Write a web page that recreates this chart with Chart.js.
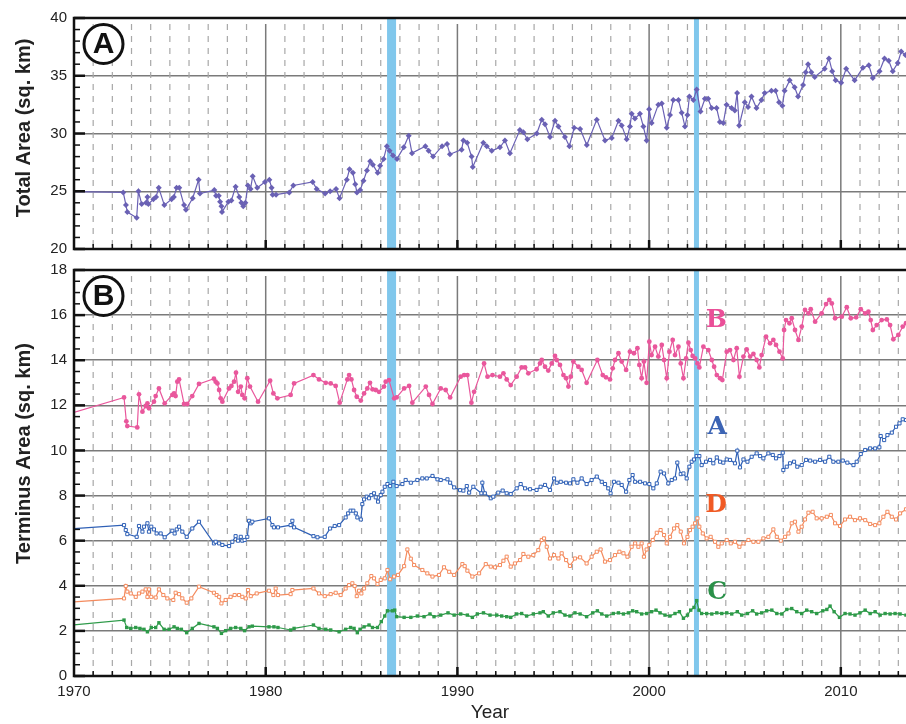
<!DOCTYPE html>
<html>
<head>
<meta charset="utf-8">
<script src="https://cdn.jsdelivr.net/npm/chart.js@4/dist/chart.umd.min.js"></script>
<style>
  html, body { margin: 0; padding: 0; background: #fff; }
  #wrap { position: relative; width: 906px; height: 724px; }
  #topChart { position: absolute; left: 0; top: 0; }
  #bottomChart { position: absolute; left: 0; top: 258px; }
</style>
</head>
<body>
<div id="wrap">
  <canvas id="topChart" width="906" height="258"></canvas>
  <canvas id="bottomChart" width="906" height="466"></canvas>
</div>
<script>
// [year, sq. km]
const totalArea = [
  [1969,25.0],[1972.57,24.9],[1972.71,23.8],[1972.78,23.2],[1973.27,22.7],[1973.36,25.0],[1973.53,23.9],[1973.76,24.0],
  [1973.83,24.5],[1973.88,23.9],[1974.14,24.3],[1974.28,24.5],[1974.42,25.3],[1974.71,23.8],[1975.09,24.3],[1975.21,24.5],
  [1975.35,25.3],[1975.49,25.3],[1975.74,23.8],[1975.84,23.4],[1976.19,24.4],[1976.5,26.0],[1976.57,24.8],[1977.32,25.1],
  [1977.41,24.6],[1977.55,24.6],[1977.62,24.1],[1977.69,23.7],[1977.72,23.2],[1978.05,24.1],[1978.21,24.2],[1978.43,25.4],
  [1978.62,24.5],[1978.73,24.0],[1978.83,23.7],[1978.94,24.0],[1979.07,25.5],[1979.21,25.2],[1979.32,26.3],[1979.56,25.3],
  [1979.96,25.8],[1980.19,26.0],[1980.31,25.3],[1980.36,24.7],[1980.54,24.7],[1981.23,24.9],[1981.44,25.5],[1982.45,25.8],
  [1982.66,25.2],[1983.1,24.8],[1983.36,25.0],[1983.67,25.2],[1983.85,24.4],[1984.23,26.0],[1984.37,26.9],[1984.55,26.6],
  [1984.67,25.6],[1984.76,24.9],[1984.93,25.1],[1985.1,25.9],[1985.28,26.8],[1985.45,27.6],[1985.59,27.3],[1985.84,26.6],
  [1985.97,27.2],[1986.15,27.8],[1986.32,28.9],[1986.46,28.5],[1986.64,28.1],[1986.85,27.8],[1987.2,28.8],[1987.46,29.8],
  [1987.63,28.3],[1988.33,28.9],[1988.5,28.5],[1988.73,28.0],[1989.2,28.9],[1989.46,29.1],[1989.61,28.2],[1990.22,28.6],
  [1990.31,29.4],[1990.51,29.2],[1990.74,28.0],[1990.8,27.1],[1991.35,29.2],[1991.53,28.9],[1991.79,28.5],[1992.22,28.8],
  [1992.48,29.4],[1992.74,28.3],[1993.26,30.3],[1993.44,30.1],[1993.65,29.5],[1994.14,30.0],[1994.4,31.2],[1994.57,30.8],
  [1994.83,29.7],[1995.09,31.1],[1995.27,30.6],[1995.61,29.7],[1995.84,28.9],[1996.09,30.5],[1996.4,30.4],[1996.75,29.0],
  [1997.27,31.2],[1997.7,29.4],[1998.05,29.6],[1998.4,31.1],[1998.57,30.7],[1998.83,29.5],[1999.0,30.6],[1999.09,31.7],
  [1999.26,31.3],[1999.52,31.7],[1999.7,30.6],[1999.87,29.4],[2000.0,32.1],[2000.13,30.9],[2000.48,32.5],[2000.66,32.6],
  [2000.92,30.5],[2001.09,31.6],[2001.26,32.9],[2001.53,32.9],[2001.7,31.8],[2001.87,30.6],[2002.0,31.6],[2002.1,33.2],
  [2002.31,32.9],[2002.48,33.8],[2002.68,31.9],[2002.91,33.0],[2003.08,33.0],[2003.26,32.2],[2003.52,32.2],[2003.69,31.0],
  [2003.87,30.9],[2004.04,32.5],[2004.3,32.2],[2004.47,32.0],[2004.59,33.5],[2004.7,30.7],[2004.99,32.7],[2005.16,32.3],
  [2005.34,33.2],[2005.6,32.2],[2005.86,32.9],[2006.03,33.5],[2006.38,33.7],[2006.6,33.7],[2006.78,32.7],[2006.95,32.4],
  [2007.07,33.7],[2007.33,34.6],[2007.59,34.0],[2007.77,33.2],[2008.03,34.2],[2008.17,35.3],[2008.29,36.0],[2008.46,35.3],
  [2008.64,34.9],[2009.16,35.6],[2009.38,36.5],[2009.55,35.4],[2009.73,34.6],[2010.02,34.4],[2010.28,35.6],[2010.72,34.6],
  [2011.15,35.7],[2011.46,35.9],[2011.67,34.8],[2012.02,35.4],[2012.28,36.5],[2012.5,36.3],[2012.71,35.4],[2012.97,36.1],
  [2013.15,37.1],[2013.37,36.8]
];

const terminusB = [
  [1969,11.44],[1972.61,12.35],[1972.73,11.29],[1972.78,11.08],[1973.3,11.02],[1973.39,12.49],[1973.57,11.72],[1973.74,11.97],
  [1973.83,12.09],[1973.91,11.87],[1974.17,12.16],[1974.26,12.41],[1974.43,12.75],[1974.73,12.09],[1975.13,12.46],[1975.22,12.53],
  [1975.3,12.41],[1975.39,13.05],[1975.48,13.15],[1975.74,12.06],[1975.91,12.06],[1976.17,12.41],[1976.52,12.95],[1977.3,13.18],
  [1977.39,13.05],[1977.48,12.97],[1977.57,12.68],[1977.65,12.31],[1977.74,12.16],[1978.09,12.75],[1978.21,12.86],[1978.35,13.05],
  [1978.45,13.45],[1978.56,12.6],[1978.7,12.83],[1978.78,12.46],[1978.9,12.31],[1979.04,13.2],[1979.18,12.83],[1979.6,12.16],
  [1980.23,13.09],[1980.4,12.53],[1980.61,12.31],[1981.3,12.46],[1981.48,12.97],[1982.49,13.34],[1982.78,13.15],[1983.13,13.0],
  [1983.39,12.97],[1983.65,12.86],[1983.86,12.12],[1984.26,13.15],[1984.35,13.34],[1984.47,13.15],[1984.61,12.68],[1984.75,12.38],
  [1984.96,12.21],[1985.13,12.53],[1985.3,12.75],[1985.44,13.0],[1985.57,12.71],[1985.74,12.68],[1985.91,12.6],[1986.17,12.83],
  [1986.26,13.05],[1986.43,13.12],[1986.7,12.31],[1986.83,12.35],[1987.22,12.75],[1987.48,12.86],[1987.65,12.12],[1988.35,12.83],
  [1988.52,12.46],[1988.7,12.06],[1989.13,12.75],[1989.39,12.68],[1989.62,12.35],[1990.17,13.27],[1990.35,13.34],[1990.52,13.34],
  [1990.73,12.12],[1990.87,12.6],[1991.39,13.86],[1991.57,13.27],[1991.83,13.34],[1992.22,13.27],[1992.4,13.42],[1992.57,13.15],
  [1992.78,12.9],[1993.09,13.27],[1993.35,13.68],[1993.53,13.68],[1993.7,13.42],[1994.13,13.6],[1994.31,13.86],[1994.4,14.01],
  [1994.57,13.71],[1994.74,13.54],[1994.92,13.86],[1995.09,14.19],[1995.18,14.01],[1995.35,13.79],[1995.53,13.34],[1995.67,13.2],
  [1995.79,12.83],[1995.91,13.27],[1996.05,13.94],[1996.31,13.71],[1996.48,13.57],[1996.74,13.0],[1997.3,14.01],[1997.58,13.34],
  [1997.75,13.24],[1997.96,13.15],[1998.1,13.64],[1998.22,14.01],[1998.4,14.31],[1998.57,13.94],[1998.8,13.57],[1999.0,14.38],
  [1999.21,14.31],[1999.39,14.53],[1999.49,13.79],[1999.61,13.2],[1999.73,13.94],[1999.87,13.0],[2000.01,14.82],[2000.13,14.23],
  [2000.31,14.6],[2000.48,14.16],[2000.66,14.68],[2000.78,14.01],[2000.92,13.2],[2001.06,14.38],[2001.23,14.9],[2001.35,14.23],
  [2001.53,14.6],[2001.65,13.86],[2001.79,13.2],[2001.93,14.08],[2002.05,14.78],[2002.17,14.45],[2002.27,14.19],[2002.4,14.08],
  [2002.52,13.86],[2002.62,13.68],[2002.83,14.6],[2003.09,14.45],[2003.27,14.01],[2003.39,13.71],[2003.53,13.34],[2003.7,13.2],
  [2003.82,13.12],[2004.05,14.38],[2004.22,14.45],[2004.4,14.01],[2004.57,14.53],[2004.71,13.27],[2004.92,14.16],[2005.09,14.48],
  [2005.27,14.16],[2005.44,14.28],[2005.61,14.01],[2005.75,13.68],[2005.87,14.23],[2006.1,15.04],[2006.31,14.75],[2006.48,14.9],
  [2006.62,14.68],[2006.8,14.38],[2006.97,14.08],[2007.04,15.34],[2007.14,15.78],[2007.32,15.64],[2007.44,15.86],[2007.61,15.34],
  [2007.79,14.9],[2007.96,15.49],[2008.13,16.23],[2008.31,16.08],[2008.43,16.26],[2008.66,15.71],[2009.0,16.08],[2009.23,16.49],
  [2009.4,16.67],[2009.53,16.52],[2009.7,15.86],[2010.05,15.93],[2010.31,16.35],[2010.52,15.86],[2010.8,15.9],[2011.04,16.26],
  [2011.27,16.08],[2011.44,16.15],[2011.56,15.78],[2011.67,15.34],[2011.87,15.56],[2012.13,15.78],[2012.4,15.81],[2012.57,15.56],
  [2012.74,14.93],[2013.0,15.12],[2013.23,15.49],[2013.4,15.64]
];

const terminusA = [
  [1969,6.48],[1972.61,6.69],[1972.7,6.47],[1972.78,6.29],[1973.27,6.17],[1973.39,6.65],[1973.57,6.4],[1973.65,6.62],
  [1973.83,6.77],[1973.91,6.4],[1974.03,6.62],[1974.17,6.5],[1974.31,6.32],[1974.52,6.32],[1974.73,6.15],[1975.13,6.44],
  [1975.25,6.32],[1975.36,6.5],[1975.48,6.62],[1975.65,6.4],[1975.88,6.17],[1976.17,6.54],[1976.52,6.84],[1977.3,5.88],
  [1977.39,5.95],[1977.57,5.88],[1977.74,5.81],[1978.09,5.76],[1978.26,5.95],[1978.43,6.2],[1978.56,6.0],[1978.7,6.17],
  [1978.78,6.0],[1978.9,6.03],[1979.04,6.17],[1979.13,6.88],[1979.22,6.77],[1979.3,6.84],[1980.17,6.99],[1980.35,6.69],
  [1980.43,6.59],[1980.64,6.59],[1981.3,6.69],[1981.39,6.88],[1981.48,6.59],[1982.49,6.2],[1982.7,6.15],[1983.08,6.17],
  [1983.36,6.54],[1983.6,6.65],[1983.83,6.69],[1984.17,7.03],[1984.3,7.21],[1984.43,7.33],[1984.57,7.33],[1984.7,7.21],
  [1984.78,7.03],[1984.96,6.94],[1985.04,7.62],[1985.13,7.83],[1985.27,7.95],[1985.39,7.88],[1985.51,8.02],[1985.65,8.1],
  [1985.74,7.92],[1985.86,7.73],[1986.0,8.02],[1986.09,8.17],[1986.21,8.39],[1986.35,8.51],[1986.49,8.42],[1986.66,8.61],
  [1986.83,8.42],[1987.13,8.51],[1987.3,8.69],[1987.57,8.57],[1987.91,8.69],[1988.17,8.76],[1988.4,8.76],[1988.7,8.87],
  [1988.96,8.72],[1989.13,8.69],[1989.48,8.72],[1989.62,8.57],[1989.83,8.36],[1990.14,8.24],[1990.31,8.22],[1990.49,8.42],
  [1990.61,8.13],[1990.83,8.39],[1991.25,8.1],[1991.3,8.57],[1991.43,8.1],[1991.74,7.88],[1991.87,7.95],[1992.13,8.13],
  [1992.36,8.22],[1992.57,8.1],[1992.78,8.07],[1993.09,8.32],[1993.3,8.51],[1993.53,8.32],[1993.79,8.28],[1994.13,8.25],
  [1994.34,8.39],[1994.57,8.47],[1994.83,8.25],[1995.04,8.76],[1995.18,8.57],[1995.39,8.61],[1995.67,8.57],[1995.87,8.54],
  [1996.05,8.72],[1996.26,8.57],[1996.48,8.76],[1996.74,8.51],[1997.0,8.69],[1997.27,8.84],[1997.53,8.61],[1997.7,8.51],
  [1997.87,8.32],[1997.99,8.1],[1998.17,8.61],[1998.4,8.57],[1998.57,8.47],[1998.8,8.17],[1998.97,8.69],[1999.14,8.91],
  [1999.27,8.61],[1999.53,8.61],[1999.79,8.54],[2000.01,8.51],[2000.22,8.32],[2000.4,8.54],[2000.6,9.06],[2000.78,8.98],
  [2001.0,8.54],[2001.18,8.69],[2001.35,8.76],[2001.47,9.46],[2001.65,8.95],[2001.79,8.98],[2001.96,8.76],[2002.1,9.28],
  [2002.22,9.5],[2002.34,9.6],[2002.48,9.75],[2002.62,9.75],[2002.74,9.35],[2002.97,9.5],[2003.18,9.58],[2003.35,9.43],
  [2003.53,9.69],[2003.7,9.5],[2003.87,9.46],[2004.05,9.6],[2004.22,9.58],[2004.48,9.43],[2004.6,9.99],[2004.74,9.25],
  [2004.92,9.6],[2005.13,9.5],[2005.35,9.72],[2005.61,9.87],[2005.79,9.75],[2005.96,9.65],[2006.22,9.87],[2006.45,9.8],
  [2006.62,9.65],[2006.8,9.75],[2006.97,9.9],[2007.0,9.13],[2007.18,9.28],[2007.35,9.43],[2007.56,9.5],[2007.73,9.28],
  [2007.96,9.35],[2008.19,9.58],[2008.4,9.55],[2008.66,9.5],[2008.92,9.58],[2009.18,9.5],[2009.4,9.72],[2009.61,9.5],
  [2009.87,9.5],[2010.1,9.55],[2010.34,9.46],[2010.66,9.35],[2010.83,9.5],[2011.04,9.84],[2011.27,10.02],[2011.53,10.09],
  [2011.79,10.09],[2012.01,10.14],[2012.08,10.64],[2012.26,10.46],[2012.43,10.68],[2012.66,10.79],[2012.88,11.05],[2013.06,11.2],
  [2013.23,11.38],[2013.4,11.35]
];

const terminusD = [
  [1969,3.23],[1972.61,3.44],[1972.7,3.99],[1972.78,3.74],[1972.96,3.66],[1973.22,3.51],[1973.39,3.66],[1973.57,3.74],
  [1973.74,3.84],[1973.83,3.51],[1973.91,3.84],[1974.03,3.51],[1974.26,3.48],[1974.43,3.84],[1974.66,3.59],[1974.87,3.44],
  [1975.18,3.37],[1975.3,3.69],[1975.48,3.63],[1975.65,3.44],[1975.88,3.25],[1976.12,3.44],[1976.52,3.96],[1977.3,3.69],
  [1977.44,3.59],[1977.57,3.51],[1977.69,3.22],[1977.91,3.37],[1978.17,3.51],[1978.38,3.59],[1978.61,3.59],[1978.78,3.51],
  [1978.96,3.44],[1979.08,3.81],[1979.22,3.54],[1979.53,3.66],[1980.17,3.78],[1980.4,3.59],[1980.52,3.88],[1980.64,3.59],
  [1981.3,3.63],[1981.39,3.81],[1982.49,3.88],[1982.78,3.66],[1983.08,3.54],[1983.39,3.63],[1983.65,3.69],[1983.91,3.59],
  [1984.17,3.88],[1984.35,4.03],[1984.52,4.11],[1984.64,3.99],[1984.75,3.54],[1984.87,3.78],[1984.99,3.66],[1985.13,3.88],
  [1985.3,4.11],[1985.51,4.43],[1985.65,4.33],[1985.83,4.08],[1986.0,4.26],[1986.21,4.33],[1986.35,4.7],[1986.49,4.29],
  [1986.7,4.41],[1986.9,4.48],[1987.22,4.87],[1987.39,5.61],[1987.57,5.2],[1987.74,4.92],[1988.17,4.7],[1988.43,4.55],
  [1988.7,4.41],[1989.04,4.48],[1989.3,4.82],[1989.57,4.62],[1989.83,4.48],[1990.26,4.96],[1990.38,4.87],[1990.52,4.67],
  [1990.78,4.41],[1991.13,4.55],[1991.48,4.96],[1991.74,4.85],[1991.96,4.82],[1992.22,4.92],[1992.4,5.11],[1992.57,5.29],
  [1992.78,4.85],[1993.0,4.99],[1993.27,5.14],[1993.44,5.41],[1993.7,5.29],[1993.96,5.36],[1994.22,5.58],[1994.4,6.03],
  [1994.52,6.1],[1994.66,5.73],[1994.83,5.21],[1995.04,5.36],[1995.27,5.21],[1995.44,5.44],[1995.67,5.14],[1995.87,4.88],
  [1996.13,5.21],[1996.4,5.26],[1996.74,4.99],[1997.0,5.29],[1997.27,5.51],[1997.47,5.61],[1997.7,5.07],[1997.96,5.14],
  [1998.22,5.36],[1998.45,5.51],[1998.66,5.44],[1998.87,5.29],[1999.09,5.73],[1999.27,5.88],[1999.44,5.73],[1999.61,5.88],
  [1999.73,5.29],[1999.87,5.61],[2000.01,5.81],[2000.19,6.03],[2000.4,6.35],[2000.6,6.47],[2000.78,6.25],[2000.92,5.88],
  [2001.09,6.17],[2001.3,6.54],[2001.47,6.69],[2001.65,6.4],[2001.82,5.88],[2002.0,6.17],[2002.13,6.47],[2002.27,6.62],
  [2002.4,6.77],[2002.52,6.99],[2002.62,6.62],[2002.8,6.32],[2003.0,6.1],[2003.21,6.17],[2003.44,5.95],[2003.61,5.73],
  [2003.79,5.88],[2004.05,6.03],[2004.26,5.88],[2004.48,5.95],[2004.71,5.73],[2004.92,5.88],[2005.18,6.03],[2005.44,5.95],
  [2005.7,5.95],[2005.96,6.1],[2006.22,6.17],[2006.48,6.5],[2006.66,6.17],[2006.87,6.0],[2007.09,6.17],[2007.27,6.32],
  [2007.44,6.77],[2007.61,6.84],[2007.79,6.4],[2007.96,6.62],[2008.13,6.94],[2008.31,7.24],[2008.53,7.28],[2008.74,6.99],
  [2009.0,6.99],[2009.27,7.06],[2009.48,7.14],[2009.7,6.77],[2009.96,6.65],[2010.22,6.94],[2010.48,7.06],[2010.74,6.91],
  [2011.0,6.99],[2011.27,6.91],[2011.53,6.74],[2011.79,6.69],[2012.01,6.77],[2012.22,7.06],[2012.43,7.28],[2012.66,7.06],
  [2012.88,6.94],[2013.09,7.21],[2013.4,7.39]
];

const terminusC = [
  [1969,2.18],[1972.61,2.48],[1972.75,2.15],[1972.96,2.11],[1973.22,2.15],[1973.44,2.11],[1973.65,2.07],[1973.83,1.96],
  [1974.03,2.15],[1974.26,2.15],[1974.43,2.36],[1974.7,2.07],[1974.96,2.07],[1975.22,2.18],[1975.39,2.11],[1975.6,2.07],
  [1975.88,1.92],[1976.17,2.11],[1976.52,2.33],[1977.3,2.18],[1977.48,2.11],[1977.69,1.89],[1977.91,2.01],[1978.17,2.11],
  [1978.43,2.15],[1978.7,2.11],[1978.9,2.01],[1979.13,2.18],[1979.3,2.21],[1980.17,2.18],[1980.43,2.18],[1980.64,2.15],
  [1981.3,2.04],[1981.48,2.11],[1982.49,2.26],[1982.78,2.11],[1983.13,2.07],[1983.39,2.04],[1983.83,1.96],[1984.17,2.07],
  [1984.43,2.15],[1984.61,2.11],[1984.78,1.92],[1984.92,2.07],[1985.13,2.18],[1985.39,2.26],[1985.57,2.15],[1985.83,2.15],
  [1986.03,2.41],[1986.21,2.66],[1986.35,2.89],[1986.61,2.89],[1986.73,2.92],[1986.83,2.63],[1987.22,2.6],[1987.57,2.6],
  [1987.91,2.66],[1988.26,2.63],[1988.57,2.75],[1988.78,2.63],[1989.13,2.7],[1989.51,2.8],[1989.83,2.7],[1990.17,2.75],
  [1990.52,2.7],[1990.78,2.6],[1991.04,2.75],[1991.36,2.8],[1991.7,2.7],[1992.05,2.7],[1992.31,2.66],[1992.57,2.63],
  [1992.78,2.6],[1993.09,2.75],[1993.35,2.77],[1993.61,2.66],[1993.96,2.75],[1994.31,2.8],[1994.48,2.85],[1994.74,2.66],
  [1995.0,2.8],[1995.35,2.85],[1995.61,2.7],[1995.87,2.66],[1996.13,2.8],[1996.4,2.75],[1996.74,2.63],[1997.06,2.8],
  [1997.3,2.89],[1997.53,2.75],[1997.79,2.66],[1998.13,2.77],[1998.4,2.8],[1998.66,2.75],[1998.92,2.8],[1999.14,2.89],
  [1999.35,2.85],[1999.61,2.75],[1999.87,2.77],[2000.13,2.85],[2000.36,2.92],[2000.57,2.8],[2000.83,2.7],[2001.09,2.66],
  [2001.35,2.77],[2001.58,2.85],[2001.79,2.56],[2002.0,2.7],[2002.17,2.92],[2002.34,3.04],[2002.48,3.34],[2002.6,2.92],
  [2002.74,2.77],[2003.0,2.77],[2003.27,2.75],[2003.53,2.8],[2003.79,2.77],[2004.05,2.8],[2004.31,2.75],[2004.6,2.85],
  [2004.83,2.7],[2005.13,2.77],[2005.4,2.89],[2005.61,2.75],[2005.87,2.8],[2006.13,2.89],[2006.4,2.92],[2006.66,2.77],
  [2006.92,2.75],[2007.18,2.95],[2007.44,2.99],[2007.7,2.85],[2007.96,2.77],[2008.22,2.92],[2008.48,2.85],[2008.74,2.77],
  [2009.06,2.89],[2009.27,2.95],[2009.44,3.1],[2009.65,2.85],[2009.93,2.6],[2010.22,2.77],[2010.48,2.75],[2010.74,2.7],
  [2011.0,2.8],[2011.27,2.92],[2011.53,2.77],[2011.79,2.85],[2012.05,2.7],[2012.31,2.77],[2012.57,2.75],[2012.83,2.77],
  [2013.09,2.75],[2013.4,2.7]
];

const xTickYears = [1970, 1980, 1990, 2000, 2010];
const bandYears = [[1986.33, 1986.8], [2002.34, 2002.6]];

const FONT = "'Liberation Sans', Arial, sans-serif";

function series(data, color, style, filled, r) {
  return {
    data: data.map(([x, y]) => ({ x, y })),
    borderColor: color,
    borderWidth: 1.2,
    pointStyle: style,
    pointRadius: r,
    pointBackgroundColor: filled ? color : "#fff",
    pointBorderColor: color,
    pointBorderWidth: filled ? 0 : 1,
    tension: 0,
  };
}

function xScale(show) {
  return {
    type: "linear",
    min: 1970,
    max: 2013.4,
    display: show,
    afterFit(s) {
      if (show) s.height = 48;
      s.paddingLeft = 0;
      s.paddingRight = 0;
    },
    grid: { display: false, drawTicks: false },
    border: { display: false },
    ticks: {
      stepSize: 10,
      includeBounds: false,
      autoSkip: false,
      maxRotation: 0,
      padding: 7,
      color: "#222",
      font: { family: FONT, size: 15 },
      callback: (v) => (xTickYears.includes(v) ? String(v) : ""),
    },
    title: { display: show, text: "Year", color: "#222", font: { family: FONT, size: 19 }, padding: 0 },
  };
}

function yScale(min, max, step, title) {
  return {
    min,
    max,
    afterFit(s) {
      s.width = 74;
      s.paddingTop = 0;
      s.paddingBottom = 0;
    },
    grid: { color: "#7a7a7a", lineWidth: 1.5, drawTicks: false },
    border: { display: false },
    ticks: { stepSize: step, padding: 7, color: "#222", font: { family: FONT, size: 15 } },
    title: { display: true, text: title, color: "#222", font: { family: FONT, size: 20, weight: "bold" }, padding: 12 },
  };
}

// grid, bands, frame, tick marks and the text labels
const framePlugin = {
  id: "frame",
  beforeDatasetsDraw(chart) {
    const { ctx, chartArea: a, scales: { x } } = chart;
    ctx.save();
    for (let yr = 1971; yr <= 2013; yr++) {
      const px = x.getPixelForValue(yr);
      ctx.beginPath();
      if (yr % 10 === 0) {
        ctx.setLineDash([]);
        ctx.strokeStyle = "#7a7a7a";
        ctx.lineWidth = 1.5;
      } else {
        ctx.setLineDash([6, 6]);
        ctx.strokeStyle = "#a8a8a8";
        ctx.lineWidth = 1.2;
      }
      ctx.moveTo(px, a.top + 6);
      ctx.lineTo(px, a.bottom);
      ctx.stroke();
    }
    ctx.setLineDash([]);
    ctx.fillStyle = "#80c7ec";
    bandYears.forEach(([s, e]) => {
      const x0 = x.getPixelForValue(s);
      const x1 = x.getPixelForValue(e);
      ctx.fillRect(x0, a.top, x1 - x0, a.bottom - a.top);
    });
    ctx.restore();
  },
  afterDraw(chart, args, opts) {
    const { ctx, chartArea: a, scales: { x, y } } = chart;
    ctx.save();
    ctx.strokeStyle = "#111";
    for (let i = 0; ; i++) {
      const v = y.min + i * opts.minor;
      if (v > y.max + 1e-9) break;
      const major = Math.abs(v / opts.major - Math.round(v / opts.major)) < 1e-6;
      const py = y.getPixelForValue(v);
      ctx.lineWidth = major ? 2.5 : 1.5;
      ctx.beginPath();
      ctx.moveTo(a.left, py);
      ctx.lineTo(a.left + (major ? 11 : 6), py);
      ctx.stroke();
    }
    for (let yr = 1971; yr <= 2013; yr++) {
      const px = x.getPixelForValue(yr);
      const major = yr % 10 === 0;
      ctx.lineWidth = major ? 2.5 : 1.5;
      ctx.beginPath();
      ctx.moveTo(px, a.bottom);
      ctx.lineTo(px, a.bottom - (major ? 9 : 5));
      ctx.stroke();
    }
    ctx.lineWidth = 2.5;
    ctx.beginPath();
    ctx.moveTo(a.right, a.top);
    ctx.lineTo(a.left, a.top);
    ctx.lineTo(a.left, a.bottom);
    ctx.lineTo(a.right, a.bottom);
    ctx.stroke();

    // circled panel letter
    const cx = a.left + 29.5, cy = a.top + 26;
    ctx.fillStyle = "#fff";
    ctx.lineWidth = 3;
    ctx.beginPath();
    ctx.arc(cx, cy, 19.5, 0, Math.PI * 2);
    ctx.fill();
    ctx.stroke();
    ctx.fillStyle = "#111";
    ctx.font = "bold 30px " + FONT;
    ctx.textAlign = "center";
    ctx.textBaseline = "middle";
    ctx.fillText(opts.panel, cx, cy + 1);

    (opts.labels || []).forEach((l) => {
      ctx.fillStyle = l.color;
      ctx.font = "bold 25px 'DejaVu Serif', serif";
      ctx.fillText(l.text, x.getPixelForValue(l.x), y.getPixelForValue(l.y));
    });
    ctx.restore();
  },
};

new Chart(document.getElementById("topChart"), {
  type: "line",
  data: { datasets: [series(totalArea, "#6a61b4", "rectRot", true, 3)] },
  options: {
    responsive: false,
    animation: false,
    layout: { autoPadding: false, padding: { top: 18, bottom: 9, left: 0, right: 0 } },
    scales: { x: xScale(false), y: yScale(20, 40, 5, "  Total Area (sq. km)") },
    plugins: {
      legend: { display: false },
      tooltip: { enabled: false },
      frame: { minor: 1, major: 5, panel: "A" },
    },
  },
  plugins: [framePlugin],
});

new Chart(document.getElementById("bottomChart"), {
  type: "line",
  data: {
    datasets: [
      series(terminusB, "#e9579c", "circle", true, 2.4),
      series(terminusA, "#2f60b6", "rect", false, 2.2),
      series(terminusD, "#f48b5e", "rect", false, 2.2),
      series(terminusC, "#2e9a49", "rect", true, 2.4),
    ],
  },
  options: {
    responsive: false,
    animation: false,
    layout: { autoPadding: false, padding: { top: 12, bottom: 0, left: 0, right: 0 } },
    scales: { x: xScale(true), y: yScale(0, 18, 2, "       Terminus Area (sq. km)") },
    plugins: {
      legend: { display: false },
      tooltip: { enabled: false },
      frame: {
        minor: 0.5,
        major: 2,
        panel: "B",
        labels: [
          { text: "B", color: "#ea4f98", x: 2003.5, y: 15.78 },
          { text: "A", color: "#3c64b4", x: 2003.55, y: 11.0 },
          { text: "D", color: "#f05a24", x: 2003.5, y: 7.58 },
          { text: "C", color: "#2a9048", x: 2003.55, y: 3.72 },
        ],
      },
    },
  },
  plugins: [framePlugin],
});
</script>
</body>
</html>
